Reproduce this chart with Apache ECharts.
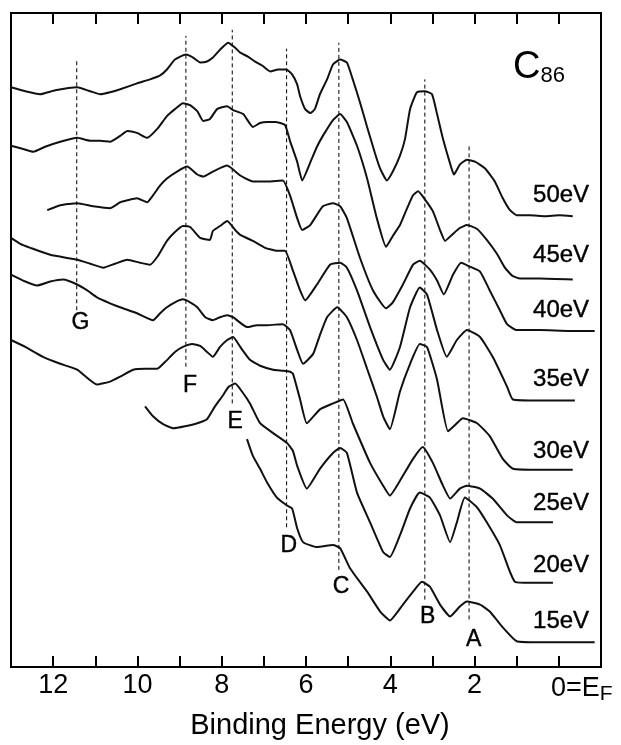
<!DOCTYPE html>
<html>
<head>
<meta charset="utf-8">
<script src="https://cdn.jsdelivr.net/npm/echarts@6/dist/echarts.min.js"></script>
<style>
  html, body { margin: 0; padding: 0; background: #fff; }
  #chart { width: 621px; height: 745px; }
</style>
</head>
<body>
<div id="chart"></div>
<script>
// C86 valence band spectra, [binding energy (eV), intensity + offset (arb.)]
const photonLabels = ['50eV', '45eV', '40eV', '35eV', '30eV', '25eV', '20eV', '15eV'];

const spec50 = [[13.00,585],[12.66,581],[12.31,578],[11.95,582],[11.43,585],[11.12,581],[10.88,578],[10.65,580],[10.41,583],[10.01,589],[9.70,593],[9.46,597],[9.30,603],[9.11,613],[8.85,618],[8.68,615],[8.51,610],[8.35,611],[8.21,615],[8.04,623],[7.85,630],[7.68,625],[7.56,620],[7.38,616],[7.21,611],[7.04,607],[6.85,601],[6.66,603],[6.47,603],[6.33,598],[6.21,588],[6.14,576],[6.02,563],[5.90,559],[5.79,563],[5.67,578],[5.50,593],[5.36,608],[5.19,613],[5.03,610],[4.89,593],[4.72,570],[4.55,545],[4.36,518],[4.24,503],[4.08,491],[3.94,500],[3.77,516],[3.65,533],[3.53,563],[3.37,580],[3.18,581],[3.01,578],[2.89,558],[2.75,533],[2.58,508],[2.49,497],[2.35,507],[2.18,512],[1.99,510],[1.75,503],[1.52,490],[1.33,473],[1.16,461],[1.00,456],[0.69,456],[0.33,455],[-0.02,456],[-0.33,455]];

const spec45 = [[13.00,526],[12.73,523],[12.47,520],[12.19,525],[11.83,530],[11.43,534],[11.12,531],[10.88,531],[10.65,530],[10.41,536],[10.24,541],[10.01,539],[9.77,534],[9.53,543],[9.30,556],[9.11,563],[8.92,569],[8.75,567],[8.58,561],[8.44,551],[8.28,553],[8.11,563],[7.87,566],[7.73,562],[7.49,558],[7.26,545],[7.09,549],[6.92,550],[6.73,550],[6.50,547],[6.38,531],[6.21,510],[6.09,491],[5.90,509],[5.74,525],[5.60,536],[5.36,552],[5.19,558],[5.03,550],[4.79,526],[4.55,493],[4.32,453],[4.10,424],[3.94,435],[3.77,446],[3.60,463],[3.46,476],[3.34,480],[3.18,472],[2.99,460],[2.82,441],[2.70,430],[2.54,436],[2.35,443],[2.18,446],[1.94,442],[1.71,431],[1.47,417],[1.28,403],[1.11,395],[0.92,392],[0.45,392],[-0.33,391]];

const spec40 = [[12.14,461],[11.83,466],[11.43,468],[11.05,465],[10.65,463],[10.41,469],[10.24,471],[10.01,473],[9.77,469],[9.63,476],[9.46,486],[9.30,493],[9.06,500],[8.82,505],[8.58,497],[8.44,495],[8.21,500],[7.87,506],[7.56,496],[7.26,490],[6.92,490],[6.55,491],[6.38,476],[6.21,453],[6.09,441],[5.90,446],[5.60,465],[5.36,468],[5.19,465],[5.03,453],[4.72,413],[4.41,380],[4.10,362],[3.94,368],[3.70,386],[3.46,406],[3.30,410],[3.06,401],[2.89,390],[2.73,376],[2.51,396],[2.32,408],[2.11,404],[1.87,399],[1.64,380],[1.40,360],[1.23,346],[1.00,340],[0.45,340],[-0.26,339],[-0.85,339]];

const spec35 = [[13.00,433],[12.78,427],[12.54,423],[12.07,416],[11.43,411],[11.12,407],[10.81,403],[10.53,407],[10.24,411],[9.94,408],[9.70,406],[9.51,415],[9.30,430],[9.11,439],[8.92,445],[8.75,444],[8.51,433],[8.28,431],[8.21,440],[8.04,445],[7.87,450],[7.68,441],[7.56,436],[7.26,430],[6.97,423],[6.69,420],[6.50,420],[6.31,400],[6.14,380],[6.02,370],[5.74,386],[5.43,406],[5.19,408],[5.03,403],[4.79,380],[4.48,343],[4.17,310],[4.01,300],[3.77,323],[3.53,363],[3.30,383],[3.13,376],[2.89,340],[2.66,313],[2.42,330],[2.18,340],[1.87,333],[1.57,313],[1.23,283],[1.09,270],[0.45,269],[-0.38,269]];

const spec30 = [[13.00,396],[12.66,389],[12.38,385],[12.07,389],[11.76,391],[11.43,386],[11.19,380],[10.96,373],[10.65,367],[10.41,363],[10.01,357],[9.63,350],[9.46,357],[9.30,363],[9.11,368],[8.92,371],[8.75,368],[8.58,363],[8.39,353],[8.21,350],[8.04,353],[7.87,355],[7.73,353],[7.40,343],[7.16,345],[6.92,345],[6.55,346],[6.38,340],[6.21,320],[6.07,306],[5.83,316],[5.67,335],[5.50,353],[5.26,363],[5.03,353],[4.79,330],[4.55,301],[4.32,273],[4.17,253],[4.01,240],[3.77,278],[3.53,306],[3.30,326],[3.13,323],[2.89,290],[2.63,238],[2.42,246],[2.28,251],[1.94,246],[1.64,233],[1.33,210],[1.09,200],[0.45,199],[-0.33,199]];

const spec25 = [[13.00,330],[12.66,323],[12.24,313],[11.83,306],[11.43,300],[10.96,285],[10.65,288],[10.41,293],[10.10,300],[9.82,301],[9.53,301],[9.34,308],[9.11,318],[8.92,323],[8.70,326],[8.51,324],[8.35,318],[8.21,313],[8.04,323],[7.87,330],[7.73,333],[7.56,323],[7.33,310],[7.09,304],[6.78,300],[6.55,299],[6.38,298],[6.31,296],[6.14,270],[5.98,246],[5.67,260],[5.36,266],[5.12,270],[4.89,246],[4.48,206],[4.17,183],[4.01,173],[3.77,188],[3.46,210],[3.23,222],[2.99,206],[2.75,183],[2.58,170],[2.35,180],[2.18,183],[1.87,180],[1.57,170],[1.23,153],[1.00,146],[0.57,146],[0.14,146]];

const spec20 = [[9.82,263],[9.63,253],[9.39,245],[9.15,241],[8.87,243],[8.58,246],[8.35,250],[8.16,263],[7.99,273],[7.83,283],[7.68,286],[7.52,278],[7.33,266],[7.09,246],[6.78,236],[6.45,226],[6.31,218],[6.21,203],[5.98,180],[5.67,200],[5.36,216],[5.19,221],[5.03,216],[4.79,176],[4.48,146],[4.17,116],[4.01,111],[3.77,133],[3.53,160],[3.30,176],[3.06,171],[2.82,153],[2.58,126],[2.42,146],[2.23,171],[1.94,161],[1.71,146],[1.40,123],[1.16,96],[1.04,86],[0.69,85],[0.14,85]];

const spec15 = [[7.40,230],[7.26,213],[7.09,200],[6.92,186],[6.69,171],[6.45,163],[6.33,160],[6.21,140],[6.07,126],[5.74,121],[5.36,123],[5.19,120],[4.96,100],[4.55,76],[4.24,56],[4.01,47],[3.70,63],[3.46,76],[3.25,86],[3.06,81],[2.82,63],[2.58,51],[2.35,61],[2.18,66],[1.87,63],[1.64,56],[1.33,40],[1.00,26],[0.45,25],[-0.26,25],[-0.85,25]];

const spectra = [spec50, spec45, spec40, spec35, spec30, spec25, spec20, spec15];
const photonLabelY = [476, 415, 360, 290, 218, 165, 103, 46];

// features A-G (dashed guide lines)
const peakNames = ['A', 'B', 'C', 'D', 'E', 'F', 'G'];
const peakEnergy = [2.13, 3.18, 5.22, 6.46, 7.75, 8.85, 11.44];
const peakTop = [528, 593, 630, 624, 643, 637, 614];
const peakBottom = [48, 68, 98, 141, 266, 303, 360];
const peakLabelE = [2.02, 3.11, 5.17, 6.41, 7.68, 8.75, 11.35];
const peakLabelY = [28, 51, 81, 122, 248, 284, 347];

const FONT = 'Liberation Sans';
const chart = echarts.init(document.getElementById('chart'));

const curveSeries = spectra.map(d => ({
  type: 'line',
  data: d,
  symbol: 'none',
  smooth: 0.15,
  silent: true,
  z: 3,
  lineStyle: { color: '#111', width: 2 }
}));

const dashSeries = peakNames.map((n, i) => ({
  type: 'line',
  data: [[peakEnergy[i], peakBottom[i]], [peakEnergy[i], peakTop[i]]],
  symbol: 'none',
  silent: true,
  z: 2,
  lineStyle: { color: '#000', width: 1, type: [4, 3] }
}));

const textSeries = (items, fontSize, position) => ({
  type: 'scatter',
  data: items,
  symbolSize: 1,
  silent: true,
  z: 5,
  itemStyle: { color: 'rgba(255,255,255,0)' },
  label: {
    show: true,
    position: position,
    distance: 0,
    formatter: '{b}',
    fontFamily: FONT,
    fontSize: fontSize,
    fontWeight: 'normal',
    color: '#000',
    opacity: 1,
    textBorderColor: '#000',
    textBorderWidth: 0.4
  }
});

const option = {
  animation: false,
  backgroundColor: '#fff',
  title: {
    text: '{c|C}{s|86}',
    left: 508,
    top: 44,
    textStyle: {
      fontWeight: 'normal',
      rich: {
        c: { fontFamily: FONT, fontSize: 38, fontWeight: 'normal', color: '#000' },
        s: { fontFamily: FONT, fontSize: 22, fontWeight: 'normal', color: '#000', padding: [16, 0, 0, 0] }
      }
    }
  },
  grid: {
    left: 11, right: 20, top: 13, bottom: 72,
    show: true, borderColor: '#000', borderWidth: 2
  },
  xAxis: [
    {
      type: 'value', min: -1, max: 13, interval: 1, inverse: true, position: 'bottom',
      axisLine: { lineStyle: { color: '#000', width: 2 } },
      axisTick: { inside: true, length: 11, lineStyle: { color: '#000', width: 2 } },
      splitLine: { show: false },
      axisLabel: {
        showMinLabel: true, showMaxLabel: true, margin: 5,
        fontFamily: FONT, fontSize: 27, color: '#000',
        formatter: v => v === 0 ? '{pad| }{n|0=E}{sub|F}' : (v % 2 === 0 ? String(v) : ''),
        rich: {
          pad: { width: 46, fontSize: 27 },
          n: { fontFamily: FONT, fontSize: 27, color: '#000' },
          sub: { fontFamily: FONT, fontSize: 21, color: '#000', padding: [12, 0, 0, 0] }
        }
      },
      name: 'Binding Energy (eV)',
      nameLocation: 'middle',
      nameGap: 44,
      nameTextStyle: { fontFamily: FONT, fontSize: 29, color: '#000', padding: [0, 0, 0, 28] }
    },
    {
      type: 'value', min: -1, max: 13, interval: 1, inverse: true, position: 'top',
      axisLine: { lineStyle: { color: '#000', width: 2 } },
      axisTick: { inside: true, length: 11, lineStyle: { color: '#000', width: 2 } },
      axisLabel: { show: false },
      splitLine: { show: false }
    }
  ],
  yAxis: {
    type: 'value', min: 0, max: 660, show: false
  },
  series: [
    ...dashSeries,
    ...curveSeries,
    textSeries(photonLabels.map((n, i) => ({ name: n, value: [-0.73, photonLabelY[i]] })), 24, 'left'),
    textSeries(peakNames.map((n, i) => ({ name: n, value: [peakLabelE[i], peakLabelY[i]] })), 23, 'inside')
  ]
};

chart.setOption(option);
</script>
</body>
</html>
